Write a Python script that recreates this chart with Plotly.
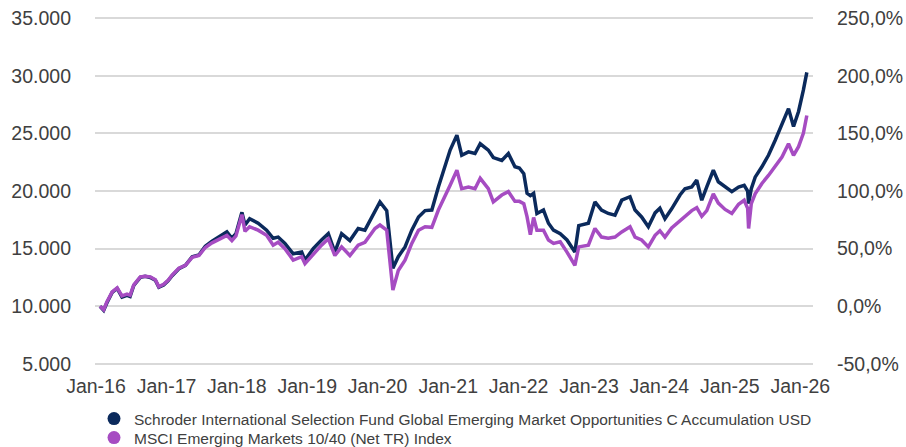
import plotly.graph_objects as go

dates = [
    "2016-01-22", "2016-02-10", "2016-02-27", "2016-03-25", "2016-04-20", "2016-05-15",
    "2016-06-10", "2016-06-26", "2016-07-15", "2016-08-18", "2016-09-12", "2016-10-09",
    "2016-11-04", "2016-11-22", "2016-12-17",
    "2017-01-09", "2017-01-30", "2017-03-06", "2017-04-09", "2017-05-14", "2017-06-18",
    "2017-07-21", "2017-08-25", "2017-10-07", "2017-11-10", "2017-12-06", "2017-12-27",
    "2018-01-27", "2018-02-12", "2018-03-08", "2018-04-21", "2018-06-04", "2018-07-08",
    "2018-08-03", "2018-09-07", "2018-10-20", "2018-12-03", "2018-12-20",
    "2019-02-01", "2019-03-16", "2019-04-20", "2019-05-24", "2019-06-28", "2019-08-10",
    "2019-09-22", "2019-10-27", "2019-12-18",
    "2020-01-13", "2020-02-17", "2020-03-20", "2020-04-17", "2020-05-22", "2020-06-26",
    "2020-07-31", "2020-09-03", "2020-10-08", "2020-11-11", "2020-12-15",
    "2021-01-11", "2021-02-15", "2021-03-12", "2021-04-16", "2021-05-20", "2021-06-16",
    "2021-07-28", "2021-08-23", "2021-10-06", "2021-11-09", "2021-12-13",
    "2022-01-05", "2022-01-28", "2022-02-14", "2022-03-03", "2022-03-20", "2022-04-06",
    "2022-05-10", "2022-06-05", "2022-07-01", "2022-08-05", "2022-09-09", "2022-10-20",
    "2022-11-09", "2022-12-29",
    "2023-02-01", "2023-03-07", "2023-04-11", "2023-05-16", "2023-06-20", "2023-08-02",
    "2023-08-28", "2023-10-01", "2023-11-05", "2023-12-10",
    "2024-01-04", "2024-01-30", "2024-03-05", "2024-04-17", "2024-05-13", "2024-06-17",
    "2024-07-13", "2024-08-08", "2024-09-03", "2024-10-07", "2024-11-02", "2024-12-07",
    "2025-01-11", "2025-02-15", "2025-03-16", "2025-04-03", "2025-04-08", "2025-04-22",
    "2025-05-12", "2025-06-16", "2025-07-20", "2025-08-24", "2025-09-28", "2025-11-01",
    "2025-11-27", "2025-12-23", "2026-01-17", "2026-02-04",
]

fund = [
    10000, 9650, 10300, 11200, 11550, 10800,
    10950, 10850, 11800, 12500, 12600, 12500,
    12250, 11650, 11850,
    12200, 12650, 13250, 13550, 14300, 14450,
    15200, 15650, 16100, 16450, 15900, 16300,
    18150, 17050, 17600, 17200, 16600, 15900,
    16000, 15450, 14550, 14700, 14000,
    15000, 15750, 16300, 14700, 16300, 15700,
    16750, 16600, 18300,
    19050, 18300, 13300, 14300, 15150, 16600,
    17750, 18300, 18350, 20350, 22100,
    23550, 24850, 23100, 23400, 23250, 24100,
    23550, 22900, 22650, 23250, 22100,
    22000, 21500, 19800, 19600, 19800, 18050,
    18350, 17200, 16600, 16300, 15750, 14700,
    17000, 17200,
    19050, 18350, 18050, 17900, 19200, 19500,
    18350, 17750, 16900, 18100,
    18500, 17600, 18450, 19650, 20200, 20350,
    20950, 19200, 20350, 21800, 20800, 20350,
    19950, 20350, 20500, 20000, 18900, 20200,
    21200, 22100, 23100, 24400, 25850, 27150,
    25600, 26900, 28750, 30300,
]

index = [
    10000, 9700, 10400, 11250, 11600, 10900,
    11050, 10950, 11850, 12550, 12600, 12550,
    12300, 11700, 11900,
    12250, 12700, 13300, 13550, 14250, 14400,
    15100, 15500, 15900, 16150, 15700, 16100,
    17950, 16500, 16900, 16600, 16150, 15300,
    15550, 15000, 14000, 14300, 13700,
    14550, 15300, 15850, 14400, 15150, 14400,
    15300, 15550, 16750,
    17050, 16600, 11400, 13100, 14000, 15450,
    16600, 16900, 16850, 18350, 19500,
    20500, 21800, 20200, 20350, 20200, 21100,
    20200, 19050, 19650, 19950, 19100,
    19100, 18900, 17750, 16200, 17700, 16600,
    16600, 15750, 15450, 15600, 14700, 13550,
    15150, 15300,
    16750, 16000, 15900, 16000, 16450, 16900,
    16000, 15750, 15150, 16150,
    16550, 16000, 16800, 17400, 17750, 18300,
    18550, 17800, 18300, 19750, 18950, 18400,
    18050, 18850, 19200, 18500, 16750, 18900,
    19750, 20650, 21350, 22100, 22950, 24100,
    23100, 23850, 25000, 26550,
]

fund_name = "Schroder International Selection Fund Global Emerging Market Opportunities C Accumulation USD"
index_name = "MSCI Emerging Markets 10/40 (Net TR) Index"
left_ticks = [5000, 10000, 15000, 20000, 25000, 30000, 35000]
left_labels = ["5.000", "10.000", "15.000", "20.000", "25.000", "30.000", "35.000"]
right_ticks = [-50, 0, 50, 100, 150, 200, 250]
right_labels = ["-50,0%", "0,0%", "50,0%", "100,0%", "150,0%", "200,0%", "250,0%"]
year_ticks = ["2016-01-01", "2017-01-01", "2018-01-01", "2019-01-01", "2020-01-01",
              "2021-01-01", "2022-01-01", "2023-01-01", "2024-01-01", "2025-01-01",
              "2026-01-01"]

NAVY = "#0b2a5c"
PURPLE = "#a64cc2"
FONT = "Liberation Sans, Arial, sans-serif"
TXT = "#404040"

fig = go.Figure()
fig.add_trace(go.Scatter(x=dates, y=fund, mode="lines", line=dict(color=NAVY, width=3.5),
                         showlegend=False, hoverinfo="skip"))
fig.add_trace(go.Scatter(x=dates, y=index, mode="lines", line=dict(color=PURPLE, width=3.5),
                         showlegend=False, hoverinfo="skip"))
fig.add_trace(go.Scatter(x=[None], y=[None], mode="markers", name=fund_name,
                         marker=dict(color=NAVY, size=13), yaxis="y2", legend="legend"))
fig.add_trace(go.Scatter(x=[None], y=[None], mode="markers", name=index_name,
                         marker=dict(color=PURPLE, size=13), yaxis="y2", legend="legend2"))

leg_common = dict(xref="container", yref="container", xanchor="left", yanchor="middle",
                  font=dict(size=15.5, color=TXT, family=FONT),
                  itemsizing="trace", bgcolor="rgba(0,0,0,0)", borderwidth=0)

fig.update_layout(
    width=906, height=447,
    margin=dict(l=95, r=93, t=17, b=82, autoexpand=False),
    paper_bgcolor="white", plot_bgcolor="white",
    font=dict(family=FONT, color=TXT, size=19.5),
    xaxis=dict(type="date", range=["2015-12-27", "2026-03-08"],
               tickvals=year_ticks, tickformat="%b-%y",
               showgrid=False, zeroline=False, showline=False,
               ticks="", ticklabelstandoff=7,
               tickfont=dict(size=19.5, color=TXT)),
    yaxis=dict(range=[4900, 35100], tickvals=left_ticks, ticktext=left_labels,
               showgrid=True, gridcolor="#d9d9d9", gridwidth=2,
               zeroline=False, showline=False, ticks="",
               ticklabelstandoff=23, tickfont=dict(size=19.5, color=TXT)),
    yaxis2=dict(range=[-51, 251], tickvals=right_ticks, ticktext=right_labels,
                overlaying="y", side="right", showgrid=False, zeroline=False,
                showline=False, ticks="", ticklabelstandoff=23,
                tickfont=dict(size=19.5, color=TXT)),
    legend=dict(x=94 / 906, y=1 - 419 / 447, **leg_common),
    legend2=dict(x=94 / 906, y=1 - 438 / 447, **leg_common),
)

fig.write_html("out.html",
               config={"displayModeBar": False, "staticPlot": True},
               post_script="document.body.style.margin='0';document.body.style.overflow='hidden';")
